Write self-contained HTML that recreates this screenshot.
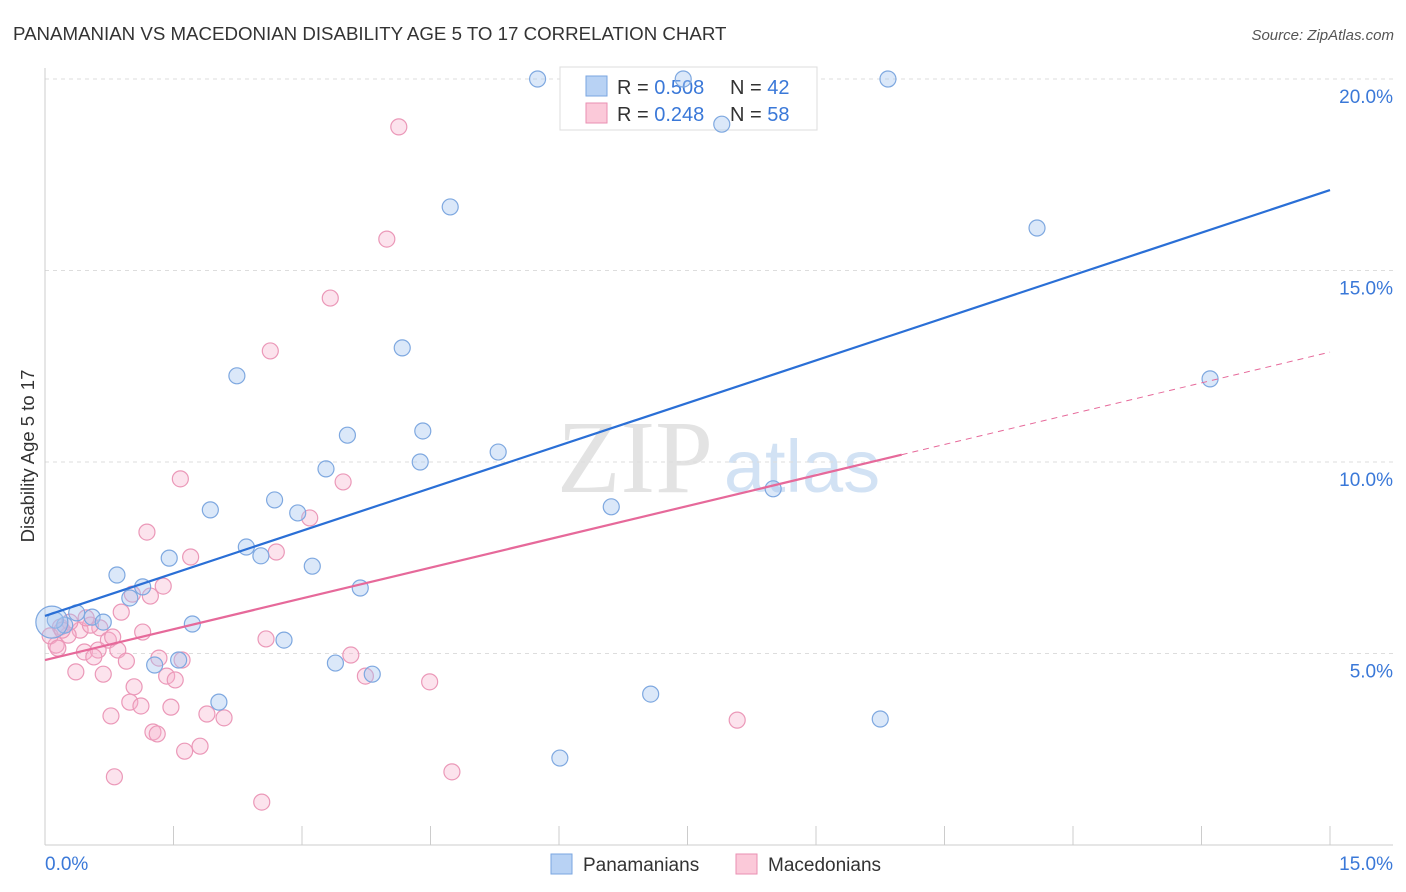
<!DOCTYPE html>
<html><head><meta charset="utf-8"><style>
body{margin:0;background:#fff;font-family:"Liberation Sans",sans-serif;}
#wrap{position:relative;width:1406px;height:892px;overflow:hidden;}
</style></head><body>
<div id="wrap">
<svg id="svg" width="1406" height="892" xmlns="http://www.w3.org/2000/svg">
<text x="13" y="40" font-size="18.7" fill="#333">PANAMANIAN VS MACEDONIAN DISABILITY AGE 5 TO 17 CORRELATION CHART</text>
<text x="1394" y="40" font-size="15" fill="#555" font-style="italic" text-anchor="end">Source: ZipAtlas.com</text>
<text x="34" y="456" font-size="18.5" fill="#333" text-anchor="middle" transform="rotate(-90 34 456)">Disability Age 5 to 17</text>
<g><text x="635" y="492" font-size="104" fill="#ddd" font-family="Liberation Serif" text-anchor="middle" opacity="0.8">ZIP</text><text x="802" y="492" font-size="74" fill="#c8dcf2" text-anchor="middle" opacity="0.8">atlas</text></g>
<g id="grid"></g><g id="axes"></g>
<g>
<rect x="560" y="67" width="257" height="63" fill="#fff" stroke="#ddd"/>
<rect x="586" y="76" width="21" height="20" fill="#b8d2f4" stroke="#7aa6e0"/>
<rect x="586" y="103" width="21" height="20" fill="#fbc9d9" stroke="#e98fb2"/>
<text x="617" y="94" font-size="20" fill="#333">R = <tspan fill="#3a78d8">0.508</tspan></text>
<text x="730" y="94" font-size="20" fill="#333">N = <tspan fill="#3a78d8">42</tspan></text>
<text x="617" y="121" font-size="20" fill="#333">R = <tspan fill="#3a78d8"> 0.248</tspan></text>
<text x="730" y="121" font-size="20" fill="#333">N = <tspan fill="#3a78d8">58</tspan></text>
</g>
<g id="pts"></g><g id="trend"></g>
<g>
<rect x="551" y="854" width="21" height="20" fill="#b8d2f4" stroke="#7aa6e0"/>
<text x="583" y="871" font-size="19" fill="#333">Panamanians</text>
<rect x="736" y="854" width="21" height="20" fill="#fbc9d9" stroke="#e98fb2"/>
<text x="768" y="871" font-size="19" fill="#333">Macedonians</text>
</g>
</svg></div>
<script>
const yTicks=[5,10,15,20];
const yTickLabels=["5.0%","10.0%","15.0%","20.0%"];
const xLabels=["0.0%","15.0%"];
const blueX=[5.75,9.84,7.45,7.90,4.73,11.58,4.17,2.24,13.60,3.53,4.41,5.29,4.38,3.28,8.50,1.93,2.68,2.95,6.61,2.35,2.52,1.45,3.12,0.84,1.14,3.68,0.99,0.37,0.55,0.68,1.72,0.23,0.12,2.79,1.56,1.28,3.39,3.82,7.07,2.03,9.75,6.01];
const blueY=[20.0,20.0,20.0,18.82,16.66,16.11,12.98,12.25,12.17,10.70,10.81,10.26,10.00,9.82,9.30,8.75,9.01,8.67,8.83,7.78,7.55,7.49,7.28,7.05,6.74,6.71,6.45,6.06,5.95,5.82,5.77,5.74,5.87,5.35,4.83,4.70,4.75,4.46,3.94,3.73,3.29,2.27];
const pinkX=[4.13,3.99,3.33,2.63,1.58,3.48,3.09,1.19,1.70,2.70,1.38,1.23,1.02,0.89,1.14,0.64,0.41,0.53,0.27,0.74,0.13,0.46,0.62,0.85,0.57,0.95,1.33,1.60,2.58,3.57,0.36,0.68,1.42,1.52,3.74,4.49,1.04,0.99,1.12,1.47,0.77,1.89,2.09,8.08,1.26,1.31,1.81,1.63,0.81,4.75,2.53,0.18,0.29,0.06,0.15,0.48,0.79,0.20];
const pinkY=[18.75,15.82,14.28,12.90,9.56,9.48,8.54,8.17,7.52,7.65,6.76,6.50,6.55,6.08,5.56,5.67,5.61,5.74,5.48,5.35,5.22,5.04,5.09,5.09,4.91,4.80,4.88,4.83,5.38,4.96,4.52,4.46,4.41,4.31,4.41,4.26,4.13,3.73,3.63,3.60,3.37,3.42,3.32,3.26,2.95,2.90,2.58,2.45,1.78,1.91,1.12,5.69,5.82,5.46,5.14,5.93,5.43,5.61];
const blueTrend=[5.98,17.1];
const pinkTrend=[4.83,12.87];
const pinkSolidEnd=10.0;
const NS="http://www.w3.org/2000/svg";
const sx=v=>45+v*85.667, sy=v=>845-v*38.3;
function mk(t,a,p){const e=document.createElementNS(NS,t);for(const k in a)e.setAttribute(k,a[k]);p.appendChild(e);return e;}
const grid=document.getElementById('grid'),axes=document.getElementById('axes'),pts=document.getElementById('pts'),tr=document.getElementById('trend');
yTicks.forEach((t,i)=>{
 const l=mk('line',{x1:45,x2:1393,y1:sy(t),y2:sy(t),stroke:'#ddd','stroke-dasharray':'4,4'},grid);
 
 
 const tx=mk('text',{x:1393,y:sy(t)+24,'font-size':19,fill:'#3a78d8','text-anchor':'end'},axes);
 tx.textContent=yTickLabels[i];
 
 
});
const ax=mk('line',{x1:45,x2:45,y1:68,y2:845,stroke:'#ccc'},axes);


const bx=mk('line',{x1:45,x2:1393,y1:845,y2:845,stroke:'#ccc'},axes);


for(let i=0;i<=10;i++){const t=mk('line',{x1:sx(i*1.5),x2:sx(i*1.5),y1:826,y2:845,stroke:'#ccc'},axes);
 
 }
[[0,'start',45],[15,'end',1393]].forEach((d,i)=>{const t=mk('text',{x:d[2],y:870,'font-size':19,fill:'#3a78d8','text-anchor':d[1]},axes);t.textContent=xLabels[i];
 
 });
pinkX.forEach((x,i)=>{const c=mk('circle',{cx:sx(x),cy:sy(pinkY[i]),r:8,fill:'rgba(246,176,204,0.35)',stroke:'#eb98b8','stroke-width':1.2},pts);
 
 });
blueX.forEach((x,i)=>{const c=mk('circle',{cx:sx(x),cy:sy(blueY[i]),r:8,fill:'rgba(166,198,240,0.4)',stroke:'#7ea8e0','stroke-width':1.2},pts);
 
 });
const big=mk('circle',{cx:sx(0.08),cy:sy(5.82),r:16,fill:'rgba(166,198,240,0.4)',stroke:'#7ea8e0','stroke-width':1.2},pts);


const b=mk('line',{x1:sx(0),y1:sy(blueTrend[0]),x2:sx(15),y2:sy(blueTrend[1]),stroke:'#2a6fd6','stroke-width':2.2},tr);


const pe=pinkTrend[0]+(pinkTrend[1]-pinkTrend[0])*pinkSolidEnd/15;
const p=mk('line',{x1:sx(0),y1:sy(pinkTrend[0]),x2:sx(pinkSolidEnd),y2:sy(pe),stroke:'#e6699a','stroke-width':2.2},tr);


const pd=mk('line',{x1:sx(pinkSolidEnd),y1:sy(pe),x2:sx(15),y2:sy(pinkTrend[1]),stroke:'#e6699a','stroke-width':1,'stroke-dasharray':'6,5'},tr);


</script>
</body></html>
